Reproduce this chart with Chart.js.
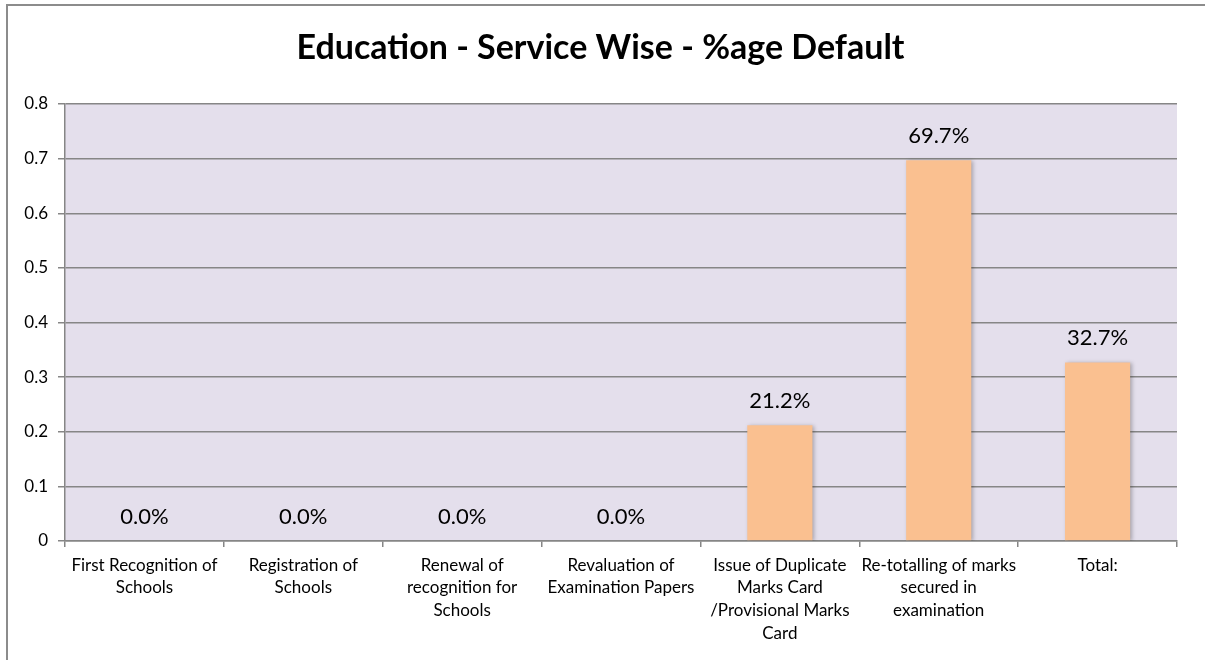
<!DOCTYPE html>
<html>
<head>
<meta charset="utf-8">
<title>Education - Service Wise - %age Default</title>
<script src="https://cdn.jsdelivr.net/npm/chart.js@4"></script>
<style>
  body { margin: 0; background: #fff; overflow: hidden; }
  canvas { display: block; }
</style>
</head>
<body>
<canvas id="chart" width="1205" height="660"></canvas>
<script>
// ==========================
// DATA
// ==========================

const services = [
  ["First Recognition of", "Schools"],
  ["Registration of", "Schools"],
  ["Renewal of", "recognition for", "Schools"],
  ["Revaluation of", "Examination Papers"],
  ["Issue of Duplicate", "Marks Card", "/Provisional Marks", "Card"],
  ["Re-totalling of marks", "secured in", "examination"],
  ["Total:"]
];

const defaultShare = [0, 0, 0, 0, 0.212, 0.697, 0.327];

const yTicks = [0, 0.1, 0.2, 0.3, 0.4, 0.5, 0.6, 0.7, 0.8];

// ==========================
// COLOURS / FONTS
// ==========================

const FONT = "Lato, 'Open Sans', sans-serif";
const GRID = "#868686";
const PLOT_BG = "#e4dfec";
const BAR = "#fac090";

// ==========================
// PLUGINS
// ==========================

// frame round the chart and the lavender plot area
const backdrop = {
  id: "backdrop",
  beforeDraw(chart) {
    const ctx = chart.ctx;
    const a = chart.chartArea;
    ctx.save();
    ctx.fillStyle = PLOT_BG;
    ctx.fillRect(a.left, a.top, a.right - a.left, a.bottom - a.top);
    ctx.strokeStyle = "#8c8c8c";
    ctx.lineWidth = 2;
    ctx.beginPath();
    ctx.moveTo(7, chart.height);
    ctx.lineTo(7, 5);
    ctx.lineTo(chart.width, 5);
    ctx.stroke();
    ctx.restore();
  }
};

// soft shadow behind the bars
const barShadow = {
  id: "barShadow",
  beforeDatasetsDraw(chart) {
    const ctx = chart.ctx;
    ctx.save();
    ctx.shadowColor = "rgba(0,0,0,0.28)";
    ctx.shadowBlur = 4;
    ctx.shadowOffsetX = 2;
    ctx.shadowOffsetY = 1;
  },
  afterDatasetsDraw(chart) {
    chart.ctx.restore();
  }
};

// percentage labels above each bar
const valueLabels = {
  id: "valueLabels",
  afterDatasetsDraw(chart) {
    const ctx = chart.ctx;
    const meta = chart.getDatasetMeta(0);
    const values = chart.data.datasets[0].data;
    ctx.save();
    ctx.font = "22px " + FONT;
    ctx.fillStyle = "#000";
    ctx.textAlign = "center";
    ctx.textBaseline = "middle";
    meta.data.forEach(function(bar, i){
      const text = (values[i] * 100).toFixed(1) + "%";
      ctx.fillText(text, bar.x, bar.y - 24);
    });
    ctx.restore();
  }
};

// ==========================
// CHART
// ==========================

const ctx = document.getElementById("chart");

const chart = new Chart(ctx, {
  type: "bar",
  data: {
    labels: services,
    datasets: [
      {
        label: "%age Default",
        data: defaultShare,
        backgroundColor: BAR,
        borderWidth: 0,
        categoryPercentage: 1,
        barPercentage: 0.41
      }
    ]
  },
  options: {
    responsive: false,
    animation: false,
    layout: {
      // left padding nudges the centred title towards the frame's middle
      padding: { left: 24, right: 28, top: 0, bottom: 0 }
    },
    plugins: {
      legend: { display: false },
      tooltip: { enabled: false },
      title: {
        display: true,
        text: "Education - Service Wise - %age Default",
        color: "#000",
        font: { family: FONT, size: 34, weight: "bold", lineHeight: 1.2 },
        padding: { top: 27.6, bottom: 35.6 }
      }
    },
    scales: {
      x: {
        offset: true,
        grid: {
          offset: true,
          drawOnChartArea: false,
          drawTicks: true,
          tickLength: 6,
          color: GRID,
          lineWidth: 1.5
        },
        border: { display: true, color: GRID, width: 1.5 },
        ticks: {
          color: "#000",
          padding: 7,
          maxRotation: 0,
          autoSkip: false,
          font: { family: FONT, size: 17, lineHeight: "22.6px" }
        },
        afterFit(scale) {
          scale.height = 119;
        }
      },
      y: {
        min: 0,
        max: 0.8,
        afterBuildTicks(scale) {
          scale.ticks = yTicks.map(v => ({ value: v }));
        },
        grid: {
          color: GRID,
          lineWidth: 1.5,
          drawTicks: true,
          tickLength: 7
        },
        border: { display: true, color: GRID, width: 1.5 },
        ticks: {
          color: "#000",
          padding: 10,
          font: { family: FONT, size: 17 },
          callback: v => v === 0 ? "0" : v.toFixed(1)
        },
        afterFit(scale) {
          scale.width = 41;
        }
      }
    }
  },
  plugins: [backdrop, barShadow, valueLabels]
});
</script>
</body>
</html>
